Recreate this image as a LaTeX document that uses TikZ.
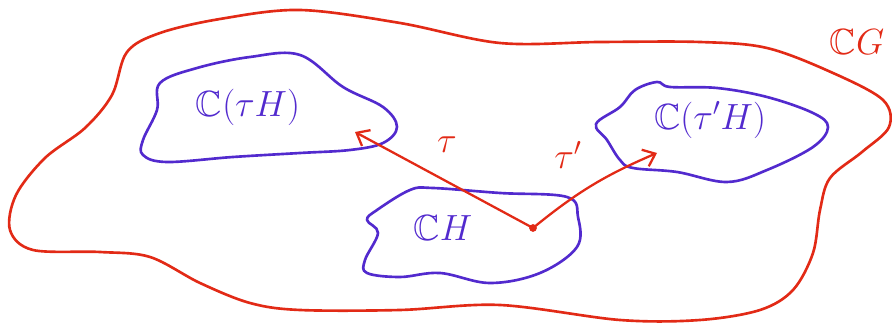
\documentclass[tikz,border=0pt]{standalone}
\usepackage{amsmath,amssymb}
\usepackage{tikz}
\usetikzlibrary{arrows.meta}

\definecolor{penred}{RGB}{226,42,22}
\definecolor{penblue}{RGB}{82,42,206}

\begin{document}
\begin{tikzpicture}[x=0.02cm, y=-0.02cm]
\tikzstyle{outer} = [penred, line width=1.5pt, line join=round]
\tikzstyle{blob} = [penblue, line width=1.5pt, line join=round]
\tikzstyle{label} = [penblue, font=\huge]
\tikzstyle{arrow} = [penred, line width=1.3pt, -{Straight Barb[length=2.2mm,width=3.6mm]}]

\useasboundingbox (0,0) rectangle (892,323);

% the group CG
\draw[outer] plot[smooth cycle, tension=0.55] coordinates {
  (127,52) (160,33) (220,19) (300,10) (400,23) (500,43) (600,42) (700,42)
  (767,48) (833,73) (883,100) (889,127) (862,152) (830,178) (820,210)
  (813,253) (793,290) (760,310) (700,320) (620,320) (500,305) (400,310)
  (300,310) (250,303) (200,283) (150,257) (100,252) (33,250) (10,230)
  (16,195) (45,158) (85,128) (112,95)};

% the cosets
\draw[blob] plot[smooth cycle, tension=0.6] coordinates {
  (197,68) (250,57) (300,55) (343,87) (383,107) (397,127) (383,143)
  (350,150) (300,153) (233,157) (167,162) (143,155) (143,140) (157,110)
  (160,83)};
\draw[blob] plot[smooth cycle, tension=0.6] coordinates {
  (596,124) (620,107) (635,90) (657,82) (670,87) (717,88) (767,97)
  (813,113) (828,127) (813,147) (767,170) (727,182) (677,172) (633,168)
  (620,160) (607,140)};
\draw[blob] plot[smooth cycle, tension=0.6] coordinates {
  (367,220) (377,210) (410,190) (433,188) (500,193) (567,197) (578,217)
  (577,247) (540,273) (490,283) (440,273) (400,277) (367,273) (365,260)
  (378,233)};

\node[label] (ctauH) at (248,107) {$\mathbb{C}(\tau H)$};
\node[label] (ctaupH) at (710,120) {$\mathbb{C}(\tau' H)$};
\node[label] (cH) at (443,228) {$\mathbb{C}H$};
\node[penred, font=\huge] (cG) at (857,42) {$\mathbb{C}G$};

% the two maps
\coordinate (orig) at (533,228);
\coordinate (tipA) at (355,132);
\coordinate (tipB) at (657,153);
\fill[penred] (orig) circle (2.2pt);
\draw[arrow] (orig) -- (tipA);
\draw[arrow] (orig) to[bend left=8] (tipB);
\node[penred, font=\huge] (tau) at (447,145) {$\tau$};
\node[penred, font=\huge] (taup) at (568,155) {$\tau'$};
\end{tikzpicture}
\end{document}
